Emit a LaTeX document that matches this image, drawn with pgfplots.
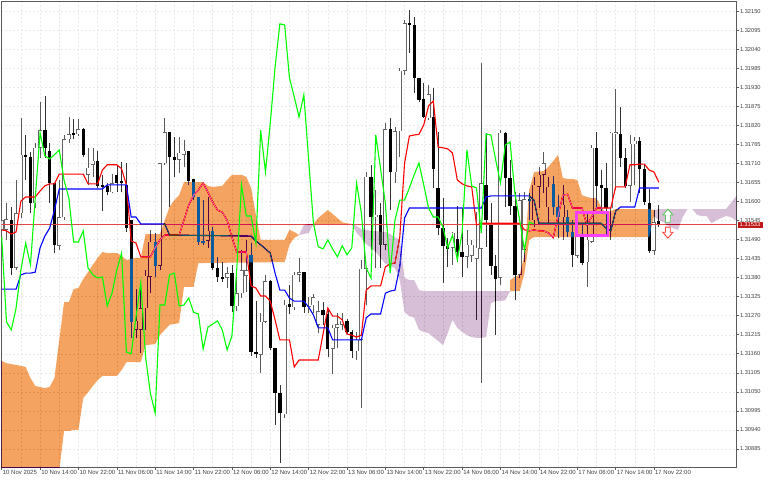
\documentclass[border=0pt]{standalone}
\usepackage{pgfplots}
\usepackage{pgfplotstable}
\usepackage{fontspec}
\setmainfont{Liberation Sans}
\pgfplotsset{compat=1.18}
\definecolor{cloudO}{HTML}{0B5B9F}
\definecolor{cloudP}{HTML}{274027}
\definecolor{frame}{HTML}{5A5A5A}
\definecolor{gridc}{HTML}{EAEAEA}
% i high top bottom low (prices)
\pgfplotstableread{
i h t b l
0 1.31604 1.31546 1.31518 1.31460
1 1.31595 1.31549 1.31518 1.31489
3 1.31662 1.31566 1.31408 1.31402
4 1.31841 1.31735 1.31566 1.31552
7 1.31769 1.31755 1.31595 1.31581
8 1.31887 1.31806 1.31755 1.31726
12 1.31662 1.31555 1.31472 1.31460
13 1.31792 1.31780 1.31555 1.31546
14 1.31844 1.31794 1.31780 1.31769
16 1.31838 1.31809 1.31794 1.31789
18 1.31755 1.31697 1.31677 1.31648
19 1.31755 1.31717 1.31706 1.31671
23 1.31679 1.31653 1.31627 1.31624
28 1.31347 1.31255 1.31229 1.31206
29 1.31367 1.31292 1.31229 1.31162
30 1.31402 1.31385 1.31292 1.31229
31 1.31518 1.31483 1.31382 1.31335
33 1.31711 1.31711 1.31414 1.31402
34 1.31841 1.31800 1.31711 1.31706
37 1.31786 1.31740 1.31720 1.31682
38 1.31778 1.31746 1.31735 1.31700
43 1.31613 1.31515 1.31486 1.31466
47 1.31411 1.31393 1.31379 1.31350
49 1.31388 1.31335 1.31298 1.31283
50 1.31460 1.31402 1.31335 1.31321
51 1.31489 1.31402 1.31385 1.31338
54 1.31277 1.31252 1.31157 1.31104
55 1.31388 1.31370 1.31252 1.31249
59 1.31315 1.31301 1.30986 1.30975
61 1.31396 1.31388 1.31295 1.31286
62 1.31437 1.31396 1.31388 1.31367
64 1.31324 1.31298 1.31295 1.31277
65 1.31332 1.31324 1.31301 1.31277
66 1.31312 1.31283 1.31244 1.31220
69 1.31244 1.31235 1.31174 1.31101
70 1.31277 1.31246 1.31235 1.31177
71 1.31277 1.31255 1.31244 1.31229
74 1.31223 1.31200 1.31168 1.31142
75 1.31431 1.31405 1.31200 1.31004
76 1.31685 1.31671 1.31405 1.31301
78 1.31633 1.31561 1.31555 1.31408
80 1.31826 1.31809 1.31475 1.31460
82 1.31815 1.31803 1.31685 1.31653
83 1.31986 1.31977 1.31803 1.31729
84 1.32124 1.32115 1.31977 1.31966
89 1.31937 1.31910 1.31841 1.31835
94 1.31512 1.31509 1.31466 1.31417
97 1.31518 1.31475 1.31440 1.31408
98 1.31489 1.31475 1.31443 1.31425
99 1.31569 1.31466 1.31434 1.31258
100 1.32000 1.31653 1.31463 1.31075
104 1.31806 1.31798 1.31379 1.31359
108 1.31624 1.31604 1.31388 1.31379
109 1.31627 1.31607 1.31460 1.31425
111 1.31671 1.31648 1.31546 1.31526
112 1.31700 1.31677 1.31642 1.31581
113 1.31743 1.31711 1.31677 1.31624
114 1.31671 1.31642 1.31584 1.31537
117 1.31648 1.31590 1.31555 1.31489
120 1.31566 1.31537 1.31443 1.31437
122 1.31566 1.31489 1.31425 1.31353
123 1.31763 1.31755 1.31483 1.31480
127 1.31800 1.31798 1.31581 1.31489
128 1.31925 1.31800 1.31794 1.31633
131 1.31792 1.31766 1.31645 1.31598
132 1.31786 1.31775 1.31766 1.31648
136 1.31575 1.31540 1.31457 1.31446
}\bull
\pgfplotstableread{
i h t b l
2 1.31584 1.31546 1.31408 1.31388
5 1.31792 1.31735 1.31729 1.31662
6 1.31743 1.31729 1.31595 1.31566
9 1.31905 1.31806 1.31755 1.31726
10 1.31769 1.31746 1.31653 1.31595
11 1.31653 1.31653 1.31475 1.31451
15 1.31838 1.31797 1.31792 1.31780
17 1.31812 1.31809 1.31735 1.31729
20 1.31746 1.31717 1.31645 1.31639
21 1.31677 1.31648 1.31642 1.31572
22 1.31653 1.31645 1.31627 1.31618
24 1.31706 1.31677 1.31653 1.31627
25 1.31714 1.31659 1.31653 1.31627
26 1.31711 1.31648 1.31523 1.31512
27 1.31546 1.31546 1.31252 1.31206
32 1.31509 1.31483 1.31414 1.31382
35 1.31800 1.31800 1.31729 1.31584
36 1.31786 1.31729 1.31720 1.31671
39 1.31746 1.31746 1.31659 1.31648
40 1.31665 1.31665 1.31613 1.31604
41 1.31613 1.31613 1.31483 1.31475
42 1.31604 1.31486 1.31480 1.31475
44 1.31526 1.31515 1.31408 1.31402
45 1.31440 1.31408 1.31382 1.31367
46 1.31425 1.31382 1.31376 1.31367
48 1.31417 1.31393 1.31298 1.31280
52 1.31480 1.31446 1.31165 1.31153
53 1.31312 1.31165 1.31160 1.31148
56 1.31373 1.31370 1.31177 1.31171
57 1.31177 1.31177 1.31046 1.30955
58 1.31070 1.31046 1.30989 1.30844
60 1.31359 1.31304 1.31295 1.31275
63 1.31396 1.31396 1.31295 1.31277
67 1.31309 1.31286 1.31272 1.31244
68 1.31292 1.31275 1.31174 1.31151
72 1.31261 1.31255 1.31223 1.31217
73 1.31229 1.31223 1.31168 1.31148
77 1.31706 1.31671 1.31555 1.31460
79 1.31595 1.31561 1.31475 1.31408
81 1.31841 1.31809 1.31685 1.31575
85 1.32153 1.32115 1.32110 1.32029
86 1.32133 1.32110 1.31957 1.31914
87 1.31957 1.31957 1.31893 1.31887
88 1.31942 1.31896 1.31844 1.31841
90 1.31928 1.31844 1.31694 1.31639
91 1.31800 1.31639 1.31523 1.31503
92 1.31610 1.31523 1.31472 1.31365
93 1.31495 1.31472 1.31463 1.31411
95 1.31587 1.31492 1.31454 1.31425
96 1.31581 1.31454 1.31440 1.31382
101 1.31798 1.31648 1.31546 1.31469
102 1.31595 1.31537 1.31414 1.31388
103 1.31446 1.31414 1.31376 1.31214
105 1.31800 1.31798 1.31668 1.31584
106 1.31720 1.31668 1.31587 1.31561
107 1.31627 1.31587 1.31388 1.31315
110 1.31624 1.31607 1.31601 1.31546
115 1.31674 1.31651 1.31584 1.31561
116 1.31618 1.31584 1.31555 1.31495
118 1.31575 1.31555 1.31512 1.31497
119 1.31546 1.31512 1.31446 1.31411
121 1.31532 1.31503 1.31422 1.31417
124 1.31800 1.31755 1.31645 1.31581
125 1.31691 1.31648 1.31639 1.31569
126 1.31711 1.31639 1.31581 1.31497
129 1.31873 1.31794 1.31726 1.31700
130 1.31755 1.31726 1.31645 1.31639
133 1.31786 1.31775 1.31694 1.31624
134 1.31706 1.31694 1.31598 1.31590
135 1.31636 1.31595 1.31457 1.31451
137 1.31590 1.31543 1.31532 1.31526
}\bear
\begin{document}
\begin{tikzpicture}[x=1pt,y=1pt]
\fill[white] (0,0) rectangle (768,480);
\begin{axis}[
  at={(1.3pt,13pt)},anchor=south west,
  scale only axis,width=735pt,height=465.7pt,
  xmin=-0.083,xmax=153.17,ymin=1.30833,ymax=1.321782,
  axis line style={draw=frame,line width=0.9pt},
  xtick={0,8,...,136},minor x tick num=1,
  xticklabels={10 Nov 2025,10 Nov 14:00,10 Nov 22:00,11 Nov 06:00,11 Nov 14:00,11 Nov 22:00,12 Nov 06:00,12 Nov 14:00,12 Nov 22:00,13 Nov 06:00,13 Nov 14:00,13 Nov 22:00,14 Nov 06:00,14 Nov 14:00,14 Nov 22:00,17 Nov 06:00,17 Nov 14:00,17 Nov 22:00},
  ytick={1.32150,1.32095,1.32040,1.31985,1.31930,1.31875,1.31820,1.31765,1.31710,1.31655,1.31600,1.31545,1.31490,1.31435,1.31380,1.31325,1.31270,1.31215,1.31160,1.31105,1.31050,1.30995,1.30940,1.30885},
  xtick pos=left,ytick pos=right,
  tick align=outside,major tick length=3pt,minor tick length=0pt,
  tick style={draw=frame,line width=0.6pt},
  grid=both,
  major grid style={gridc,dash pattern=on 2pt off 2pt,line width=0.5pt},
  minor grid style={gridc,dash pattern=on 2pt off 2pt,line width=0.5pt},
  yticklabel style={/pgf/number format/fixed,/pgf/number format/fixed zerofill,/pgf/number format/precision=5,/pgf/number format/assume math mode=true,font=\fontsize{5.7}{6}\selectfont,text=black!75,anchor=west,inner sep=0pt,xshift=0.5pt},
  xticklabel style={font=\fontsize{6}{7}\selectfont,text=black!75,anchor=north west,inner sep=0pt,xshift=1pt,yshift=-0.5pt},
  scaled y ticks=false,
  clip=true,
]
% candles
\addplot[draw=none,mark=none,forget plot,error bars/.cd,y dir=plus,y explicit,error mark=none,error bar style={black!65,line width=0.6pt}] table[x=i,y=l,y error plus expr=\thisrow{h}-\thisrow{l}] {\bull};
\addplot[draw=none,mark=none,forget plot,error bars/.cd,y dir=plus,y explicit,error mark=none,error bar style={black!80,line width=0.6pt}] table[x=i,y=l,y error plus expr=\thisrow{h}-\thisrow{l}] {\bear};
\addplot[draw=none,mark=none,forget plot,error bars/.cd,y dir=plus,y explicit,error mark=none,error bar style={black,line width=3.3pt}] table[x=i,y=b,y error plus expr=\thisrow{t}-\thisrow{b}] {\bear};
\addplot[draw=none,mark=none,forget plot,error bars/.cd,y dir=plus,y explicit,error mark=none,error bar style={black!60,line width=4pt}] table[x=i,y=b,y error plus expr=\thisrow{t}-\thisrow{b}] {\bull};
\addplot[draw=none,mark=none,forget plot,error bars/.cd,y dir=plus,y explicit,error mark=none,error bar style={white,line width=3pt}] table[x=i,y expr=\thisrow{b}+0.000014,y error plus expr=\thisrow{t}-\thisrow{b}-0.000028] {\bull};
% bid line
\addplot[draw={rgb,255:red,224;green,72;blue,72},line width=0.8pt,forget plot] coordinates {(-1,1.31533) (154,1.31533)};
% tenkan
\addplot[draw=red,line width=1.1pt,forget plot] coordinates {(0,1.31518)(1,1.31515)(2,1.31506)(3,1.31512)(4,1.31601)(5,1.31613)(7,1.31613)(8,1.31630)(9,1.31645)(10,1.31651)(11,1.31651)(12,1.31679)(17,1.31679)(18,1.31651)(20,1.31651)(21,1.31691)(22,1.31706)(24,1.31706)(25,1.31694)(26,1.31648)(27,1.31486)(28,1.31480)(29,1.31440)(31,1.31440)(32,1.31466)(33,1.31489)(34,1.31503)(37,1.31503)(38,1.31546)(39,1.31590)(40,1.31618)(41,1.31633)(42,1.31653)(43,1.31627)(44,1.31598)(45,1.31575)(46,1.31569)(47,1.31546)(48,1.31497)(49,1.31454)(51,1.31454)(52,1.31356)(53,1.31350)(54,1.31327)(55,1.31327)(56,1.31312)(57,1.31258)(58,1.31200)(60,1.31200)(61,1.31122)(62,1.31142)(66,1.31142)(67,1.31217)(68,1.31292)(69,1.31269)(70,1.31269)(71,1.31258)(72,1.31217)(73,1.31214)(74,1.31208)(75,1.31214)(76,1.31344)(77,1.31356)(79,1.31356)(80,1.31411)(81,1.31420)(82,1.31422)(83,1.31497)(84,1.31711)(85,1.31789)(86,1.31792)(87,1.31794)(88,1.31821)(89,1.31876)(90,1.31890)(91,1.31757)(92,1.31755)(93,1.31752)(94,1.31740)(95,1.31662)(96,1.31651)(97,1.31645)(98,1.31642)(99,1.31532)(100,1.31537)(108,1.31537)(109,1.31518)(110,1.31515)(111,1.31518)(112,1.31515)(113,1.31515)(114,1.31509)(115,1.31495)(116,1.31558)(117,1.31618)(118,1.31621)(119,1.31581)(121,1.31581)(122,1.31532)(123,1.31555)(124,1.31581)(127,1.31581)(128,1.31642)(130,1.31642)(131,1.31706)(132,1.31706)(133,1.31708)(134,1.31708)(135,1.31691)(136,1.31685)(137,1.31656)};
% kijun
\addplot[draw=blue,line width=1.1pt,forget plot] coordinates {(0,1.31347)(3,1.31347)(4,1.31388)(5,1.31393)(6,1.31393)(7,1.31396)(8,1.31466)(9,1.31500)(10,1.31523)(11,1.31575)(12,1.31636)(21,1.31636)(22,1.31648)(26,1.31648)(27,1.31555)(28,1.31555)(29,1.31535)(34,1.31535)(35,1.31503)(52,1.31500)(53,1.31486)(54,1.31475)(55,1.31463)(56,1.31451)(57,1.31393)(58,1.31344)(59,1.31344)(60,1.31321)(61,1.31312)(63,1.31312)(64,1.31295)(65,1.31272)(66,1.31235)(68,1.31235)(69,1.31200)(75,1.31200)(76,1.31264)(77,1.31275)(79,1.31275)(80,1.31335)(81,1.31341)(82,1.31344)(83,1.31411)(84,1.31552)(85,1.31581)(100,1.31581)(101,1.31613)(102,1.31616)(110,1.31616)(111,1.31604)(112,1.31537)(125,1.31537)(126,1.31523)(127,1.31515)(128,1.31572)(129,1.31584)(132,1.31584)(133,1.31639)(137,1.31639)};
% cloud, blended over what lies below it
\begin{scope}[blend mode=difference]
\addplot[fill=cloudO,draw=none,forget plot] coordinates {(-1,1.31139)(0,1.31139)(1,1.31133)(2,1.31130)(3,1.31128)(4,1.31125)(5,1.31122)(6,1.31090)(7,1.31067)(8,1.31064)(9,1.31061)(10,1.31064)(11,1.31090)(12,1.31200)(13,1.31309)(14,1.31309)(15,1.31347)(16,1.31350)(17,1.31376)(18,1.31396)(19,1.31417)(20,1.31437)(21,1.31454)(22,1.31451)(24,1.31451)(25,1.31443)(26,1.31431)(27,1.31434)(28,1.31437)(29,1.31437)(30,1.31506)(33,1.31506)(34,1.31546)(35,1.31584)(36,1.31604)(37,1.31618)(38,1.31656)(42,1.31656)(43,1.31645)(44,1.31642)(46,1.31645)(47,1.31662)(48,1.31677)(50,1.31677)(51,1.31671)(52,1.31639)(53,1.31561)(54,1.31489)(59,1.31489)(60,1.31518)(61,1.31512)(62,1.31503)(61,1.31495)(60,1.31475)(59,1.31425)(41,1.31422)(40,1.31353)(38,1.31353)(37,1.31249)(36,1.31246)(35,1.31244)(34,1.31229)(33,1.31214)(32,1.31188)(30,1.31185)(29,1.31136)(26,1.31136)(25,1.31113)(24,1.31096)(21,1.31096)(20,1.31084)(19,1.31067)(18,1.31049)(17,1.31032)(16,1.30940)(15,1.30940)(14,1.30937)(13,1.30937)(12,1.30824)(-1,1.30824)} -- cycle;
\addplot[fill=cloudP,draw=none,forget plot] coordinates {(62,1.31503)(63,1.31532)(64,1.31535)(65,1.31535)(64,1.31509)(63,1.31506)} -- cycle;
\addplot[fill=cloudO,draw=none,forget plot] coordinates {(65,1.31535)(66,1.31552)(67,1.31564)(68,1.31575)(69,1.31564)(70,1.31552)(71,1.31540)(72,1.31537)(73,1.31535)} -- cycle;
\addplot[fill=cloudP,draw=none,forget plot] coordinates {(73,1.31535)(74,1.31529)(75,1.31520)(76,1.31518)(77,1.31515)(78,1.31515)(79,1.31512)(80,1.31512)(81,1.31506)(82,1.31497)(83,1.31489)(84,1.31379)(85,1.31373)(86,1.31373)(87,1.31344)(88,1.31341)(106,1.31341)(105,1.31315)(104,1.31312)(103,1.31312)(102,1.31306)(101,1.31208)(100,1.31206)(99,1.31206)(98,1.31208)(97,1.31214)(96,1.31223)(95,1.31235)(94,1.31258)(93,1.31220)(92,1.31185)(91,1.31197)(90,1.31208)(89,1.31220)(88,1.31223)(87,1.31229)(86,1.31264)(85,1.31269)(84,1.31280)(83,1.31373)(82,1.31408)(81,1.31414)(80,1.31420)(79,1.31437)(78,1.31454)(77,1.31466)(76,1.31477)(75,1.31495)(74,1.31509)} -- cycle;
\addplot[fill=cloudO,draw=none,forget plot] coordinates {(106,1.31373)(107,1.31382)(108,1.31388)(109,1.31446)(110,1.31633)(111,1.31685)(113,1.31688)(114,1.31700)(115,1.31717)(116,1.31735)(117,1.31668)(118,1.31665)(119,1.31665)(120,1.31662)(121,1.31618)(122,1.31613)(123,1.31610)(124,1.31610)(125,1.31584)(126,1.31566)(127,1.31572)(128,1.31578)(135,1.31578)(136,1.31575)(136,1.31558)(135,1.31497)(111,1.31497)(110,1.31489)(109,1.31393)(108,1.31341)(106,1.31341)} -- cycle;
\addplot[fill=cloudP,draw=none,forget plot] coordinates {(136,1.31575)(137,1.31578)(151,1.31578)(152,1.31595)(153,1.31613)(154,1.31618)(154,1.31546)(153,1.31546)(152,1.31555)(151,1.31558)(150,1.31552)(149,1.31546)(148,1.31537)(147,1.31558)(146,1.31558)(145,1.31561)(144,1.31578)(143,1.31578)(142,1.31555)(141,1.31518)(140,1.31523)(139,1.31529)(138,1.31540)(137,1.31546)(136,1.31558)} -- cycle;
\end{scope}
% chikou
\addplot[draw={rgb,255:red,0;green,255;blue,0},line width=1.1pt,forget plot] coordinates {(0,1.31497)(1,1.31252)(2,1.31229)(3,1.31292)(4,1.31402)(5,1.31480)(6,1.31417)(7,1.31610)(8,1.31798)(9,1.31732)(10,1.31723)(11,1.31735)(12,1.31749)(13,1.31662)(14,1.31610)(15,1.31483)(16,1.31483)(17,1.31515)(18,1.31408)(19,1.31388)(20,1.31379)(21,1.31382)(22,1.31298)(23,1.31335)(24,1.31402)(25,1.31451)(26,1.31165)(27,1.31160)(28,1.31266)(29,1.31367)(30,1.31151)(31,1.31046)(32,1.30989)(33,1.31301)(34,1.31301)(35,1.31388)(36,1.31393)(37,1.31298)(38,1.31301)(39,1.31321)(40,1.31280)(41,1.31275)(42,1.31174)(43,1.31237)(44,1.31246)(45,1.31255)(46,1.31229)(47,1.31171)(48,1.31211)(49,1.31402)(50,1.31648)(51,1.31558)(52,1.31558)(53,1.31480)(54,1.31806)(55,1.31685)(56,1.31826)(57,1.31988)(58,1.32113)(59,1.32110)(60,1.31957)(61,1.31902)(62,1.31844)(63,1.31908)(64,1.31720)(65,1.31537)(66,1.31469)(67,1.31463)(68,1.31489)(69,1.31463)(70,1.31440)(71,1.31472)(72,1.31446)(73,1.31466)(74,1.31653)(75,1.31566)(76,1.31408)(77,1.31379)(78,1.31792)(79,1.31694)(80,1.31595)(81,1.31393)(82,1.31546)(83,1.31604)(84,1.31604)(85,1.31639)(86,1.31677)(87,1.31711)(88,1.31648)(89,1.31581)(90,1.31555)(91,1.31555)(92,1.31526)(93,1.31466)(94,1.31503)(95,1.31431)(96,1.31509)(97,1.31749)(98,1.31645)(99,1.31639)(100,1.31509)(101,1.31795)(102,1.31792)(103,1.31720)(104,1.31653)(105,1.31763)(106,1.31772)(107,1.31624)(108,1.31546)(109,1.31460)(110,1.31540)(111,1.31535)};
% annotations
\draw[draw={rgb,255:red,255;green,64;blue,255},line width=2.6pt] (axis cs:119.9,1.31569) rectangle (axis cs:126.4,1.31501);
\draw[draw={rgb,255:red,96;green,200;blue,96},line width=0.9pt,fill=white] (axis cs:138.9,1.31578) -- (axis cs:139.95,1.31561) -- (axis cs:139.4,1.31561) -- (axis cs:139.4,1.31540) -- (axis cs:138.4,1.31540) -- (axis cs:138.4,1.31561) -- (axis cs:137.85,1.31561) -- cycle;
\draw[draw={rgb,255:red,255;green,64;blue,64},line width=0.9pt,fill=white] (axis cs:138.9,1.31494) -- (axis cs:139.95,1.31511) -- (axis cs:139.4,1.31511) -- (axis cs:139.4,1.31526) -- (axis cs:138.4,1.31526) -- (axis cs:138.4,1.31511) -- (axis cs:137.85,1.31511) -- cycle;
\end{axis}
\fill[fill={rgb,255:red,192;green,24;blue,24}] (738,251.7) rectangle (762.7,258.3);
\node[anchor=west,inner sep=0pt,text=white,font=\fontsize{5.7}{6}\selectfont] at (739.5,255) {1.31533};
\pgfresetboundingbox
\path[use as bounding box] (0,0) rectangle (768,480);
\end{tikzpicture}
\end{document}
